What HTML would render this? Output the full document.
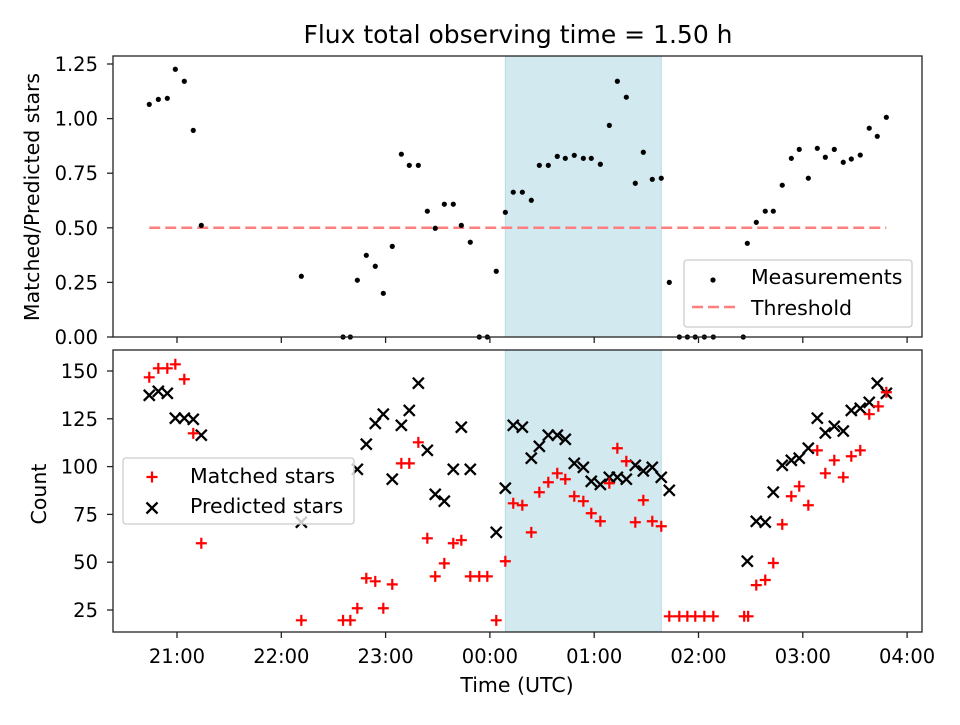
<!DOCTYPE html>
<html><head><meta charset="utf-8"><style>
body{margin:0;background:#fff;}
svg text{font-family:"DejaVu Sans","Liberation Sans",sans-serif;fill:#000;}
</style></head><body>
<svg id="chart" width="960" height="720" viewBox="0 0 960 720" xmlns="http://www.w3.org/2000/svg"></svg>
<script>
// Data (time in hours; >24 = after midnight)
const ratioTimes=[20.734,20.821,20.907,20.984,21.070,21.156,21.233,22.192,22.592,22.662,22.729,22.815,22.901,22.978,23.064,23.151,23.227,23.314,23.400,23.476,23.563,23.649,23.726,23.812,23.898,23.975,24.061,24.148,24.224,24.311,24.397,24.474,24.560,24.646,24.723,24.809,24.896,24.972,25.059,25.145,25.222,25.308,25.394,25.471,25.557,25.643,25.720,25.816,25.893,25.969,26.056,26.142,26.429,26.468,26.554,26.640,26.717,26.803,26.890,26.966,27.053,27.139,27.216,27.302,27.388,27.465,27.551,27.637,27.714,27.801];
const ratioValues=[1.065,1.088,1.093,1.226,1.171,0.946,0.511,0.278,0,0,0.260,0.374,0.324,0.200,0.415,0.837,0.786,0.786,0.576,0.498,0.608,0.608,0.511,0.434,0,0,0.301,0.571,0.663,0.663,0.626,0.786,0.786,0.827,0.818,0.832,0.818,0.818,0.791,0.969,1.171,1.098,0.704,0.846,0.722,0.727,0.250,0,0,0,0,0,0,0.429,0.525,0.576,0.576,0.695,0.818,0.859,0.727,0.864,0.823,0.859,0.800,0.815,0.833,0.956,0.919,1.006];
const matchedTimes=[20.734,20.821,20.907,20.984,21.070,21.156,21.233,22.192,22.592,22.662,22.729,22.815,22.901,22.978,23.064,23.151,23.227,23.314,23.400,23.476,23.563,23.649,23.726,23.812,23.898,23.975,24.061,24.148,24.224,24.311,24.397,24.474,24.560,24.646,24.723,24.809,24.896,24.972,25.059,25.145,25.222,25.308,25.394,25.471,25.557,25.643,25.720,25.816,25.893,25.969,26.056,26.142,26.438,26.476,26.554,26.640,26.717,26.803,26.890,26.966,27.053,27.139,27.216,27.302,27.388,27.465,27.551,27.637,27.724,27.801];
const matchedValues=[146.7,151.4,151.4,153.5,145.7,117.4,59.9,19.6,19.6,19.6,25.9,41.6,40.0,25.9,38.4,101.7,101.7,112.7,62.5,42.6,49.4,59.9,61.5,42.6,42.6,42.6,19.6,50.5,80.8,79.8,65.6,86.6,91.8,96.5,93.4,84.5,81.9,75.6,71.4,91.3,109.6,102.8,70.9,82.4,71.4,68.8,21.7,21.7,21.7,21.7,21.7,21.7,21.7,21.7,38.0,40.7,49.6,69.8,84.5,89.7,79.8,108.5,96.5,103.3,94.4,105.4,108.5,127.4,131.5,138.9];
const predictedTimes=[20.734,20.821,20.907,20.984,21.070,21.156,21.233,22.192,22.729,22.815,22.901,22.978,23.064,23.151,23.227,23.314,23.400,23.476,23.563,23.649,23.726,23.812,24.061,24.148,24.224,24.311,24.397,24.474,24.560,24.646,24.723,24.809,24.896,24.972,25.059,25.145,25.222,25.308,25.394,25.471,25.557,25.643,25.720,26.468,26.554,26.640,26.717,26.803,26.890,26.966,27.053,27.139,27.216,27.302,27.388,27.465,27.551,27.637,27.714,27.801];
const predictedValues=[137.3,139.4,138.3,125.3,125.3,124.7,116.4,70.9,98.6,111.7,122.6,127.4,93.4,121.6,129.4,143.6,108.5,85.5,81.9,98.6,120.6,98.6,65.6,88.7,121.6,120.6,104.4,110.6,116.4,116.4,114.3,101.7,99.6,92.3,90.7,94.4,94.4,93.4,100.7,97.7,99.6,94.4,87.6,50.5,71.4,70.9,86.6,100.7,103.3,104.4,109.6,125.3,117.6,121.1,118.6,129.4,130.5,133.6,143.6,138.3];
const threshold=0.5;
const shadeStart=24.148, shadeEnd=25.643;
const xTickValues=[21,22,23,24,25,26,27,28];
const xTickLabels=["21:00","22:00","23:00","00:00","01:00","02:00","03:00","04:00"];
const yTopTicks=[0,0.25,0.5,0.75,1.0,1.25];
const yBotTicks=[25,50,75,100,125,150];

const svg=document.getElementById('chart');
const NS='http://www.w3.org/2000/svg';
function mk(tag,attrs,parent){const e=document.createElementNS(NS,tag);for(const k in attrs)e.setAttribute(k,attrs[k]);(parent||svg).appendChild(e);return e;}
const L=113,R=922,T1=56,B1=337,T2=350,B2=632;
const x=t=>177+(t-21)*104.3;
const yTop=v=>337-v*218.4;
const yBot=v=>371+(150-v)*1.912;

for(const [t,b] of [[T1,B1],[T2,B2]]){
  const s=mk('rect',{x:x(shadeStart),y:t,width:x(shadeEnd)-x(shadeStart),height:b-t,fill:'#d3e9f0',stroke:'#b8dbe6','stroke-width':1});
  
  
}
const th=mk('line',{x1:x(ratioTimes[0]),x2:x(ratioTimes[ratioTimes.length-1]),y1:yTop(threshold),y2:yTop(threshold),stroke:'#ff7f7f','stroke-width':2.5,'stroke-dasharray':'11,5'});


ratioTimes.forEach((t,i)=>{
  const c=mk('circle',{cx:x(t),cy:yTop(ratioValues[i]),r:2.6,fill:'#000'});
  
  
});
predictedTimes.forEach((t,i)=>{
  const cx=x(t),cy=yBot(predictedValues[i]),d=5.5;
  const p=mk('path',{d:`M${cx-d},${cy-d}L${cx+d},${cy+d}M${cx-d},${cy+d}L${cx+d},${cy-d}`,stroke:'#000','stroke-width':2.3});
  
  
});
matchedTimes.forEach((t,i)=>{
  const cx=x(t),cy=yBot(matchedValues[i]),d=5.5;
  const p=mk('path',{d:`M${cx-d},${cy}L${cx+d},${cy}M${cx},${cy-d}L${cx},${cy+d}`,stroke:'#f00','stroke-width':2.2});
  
  
});
for(const [t,b,n] of [[T1,B1,'top-axes-frame'],[T2,B2,'bottom-axes-frame']]){
  const f=mk('rect',{x:L,y:t,width:R-L,height:b-t,fill:'none',stroke:'#222','stroke-width':1.3});
  
  
}
xTickValues.forEach((v,i)=>{
  const xx=x(v);
  mk('line',{x1:xx,x2:xx,y1:B1,y2:B1+6,stroke:'#222','stroke-width':1.3});
  mk('line',{x1:xx,x2:xx,y1:B2,y2:B2+6,stroke:'#222','stroke-width':1.3});
  const tx=mk('text',{x:xx,y:663,'text-anchor':'middle','font-size':19.5});
  tx.textContent=xTickLabels[i];
  
  
});
yTopTicks.forEach(v=>{
  const yy=yTop(v);
  mk('line',{x1:L-6,x2:L,y1:yy,y2:yy,stroke:'#222','stroke-width':1.3});
  const tx=mk('text',{x:98,y:yy+7,'text-anchor':'end','font-size':19.5});
  tx.textContent=v.toFixed(2);
  
  
});
yBotTicks.forEach(v=>{
  const yy=yBot(v);
  mk('line',{x1:L-6,x2:L,y1:yy,y2:yy,stroke:'#222','stroke-width':1.3});
  const tx=mk('text',{x:98,y:yy+7,'text-anchor':'end','font-size':19.5});
  tx.textContent=String(v);
  
  
});
</script>
<svg style="position:absolute;left:0;top:0" width="960" height="720">
  <text x="518" y="43" text-anchor="middle" font-size="25">Flux total observing time = 1.50 h</text>
  <text transform="translate(39,197) rotate(-90)" text-anchor="middle" font-size="20.5">Matched/Predicted stars</text>
  <text transform="translate(46,494) rotate(-90)" text-anchor="middle" font-size="20.5">Count</text>
  <text x="517" y="692" text-anchor="middle" font-size="20.5">Time (UTC)</text>
  <g>
    <rect x="684" y="260" width="228" height="67" rx="3" fill="#fff" fill-opacity="0.8" stroke="#ccc" stroke-width="1.3"/>
    <circle cx="713" cy="280" r="2.6" fill="#000"/>
    <text x="751" y="284" font-size="20.5">Measurements</text>
    <line x1="692" x2="735" y1="307" y2="307" stroke="#ff7f7f" stroke-width="2.5" stroke-dasharray="11,5"/>
    <text x="751" y="315" font-size="20.5">Threshold</text>
  </g>
  <g>
    <rect x="123" y="458" width="231" height="66" rx="3" fill="#fff" fill-opacity="0.8" stroke="#ccc" stroke-width="1.3"/>
    <path d="M146.5,477H157.5M152,471.5V482.5" stroke="#f00" stroke-width="2.2"/>
    <text x="190" y="483" font-size="20.5">Matched stars</text>
    <path d="M146.5,502.5L157.5,513.5M146.5,513.5L157.5,502.5" stroke="#000" stroke-width="2.3"/>
    <text x="190" y="513" font-size="20.5">Predicted stars</text>
  </g>
</svg>
</body></html>
